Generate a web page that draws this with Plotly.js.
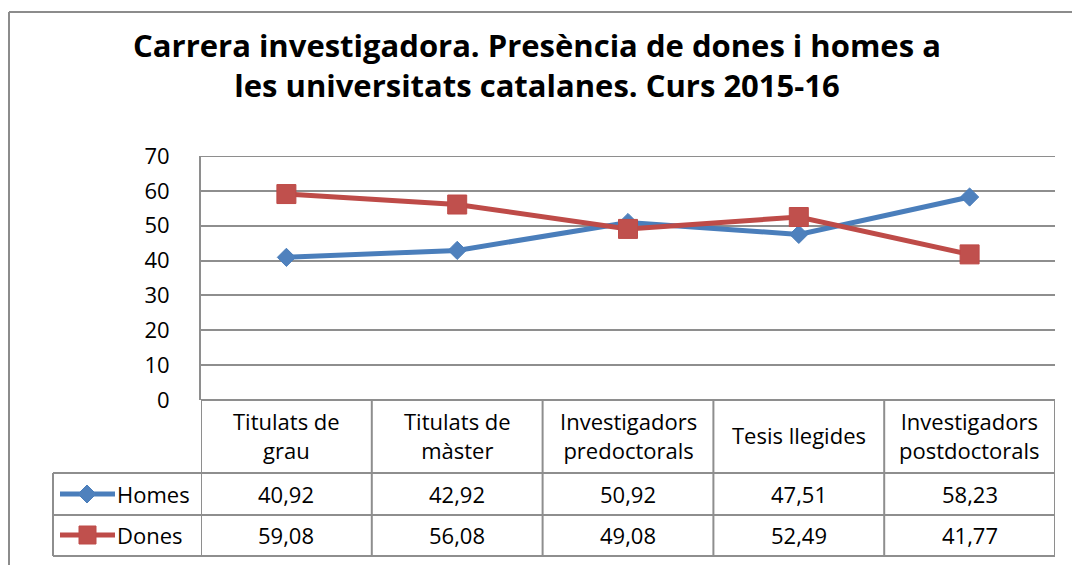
<!DOCTYPE html>
<html>
<head>
<meta charset="utf-8">
<script src="https://cdn.plot.ly/plotly-3.0.1.min.js"></script>
<style>html,body{margin:0;padding:0;background:#fff;}#chart{width:1072px;height:565px;}</style>
</head>
<body>
<div id="chart"></div>
<script>
const categories = ["Titulats de<br>grau", "Titulats de<br>màster", "Investigadors<br>predoctorals", "Tesis llegides", "Investigadors<br>postdoctorals"];
const homes = [40.92, 42.92, 50.92, 47.51, 58.23];
const dones = [59.08, 56.08, 49.08, 52.49, 41.77];
const seriesNames = ["Homes", "Dones"];
const yTicks = [0, 10, 20, 30, 40, 50, 60, 70];

const W = 1072, H = 565;
const px = x => x / W;
const py = y => 1 - y / H;
const FONT = "'Open Sans', sans-serif";
const GRID = "#8e8e8e";
const BLUE = "#4A7EBB", BLUE_M = "#4F81BD";
const RED = "#BE4B48", RED_M = "#C0504D";

const plotLeft = 201, plotRight = 1055, plotTop = 156, plotBottom = 400;
const tableLeft = 53, headerBottom = 473, row1Bottom = 515, row2Bottom = 556;
const TXT = 22;

const idx = categories.map((c, i) => i);
const fmt = v => v.toFixed(2).replace('.', ',');

const traces = [
  {x: idx, y: homes, name: seriesNames[0], type: 'scatter', mode: 'lines+markers',
   line: {color: BLUE, width: 5}, marker: {symbol: 'diamond', size: 14, color: BLUE_M, line: {color: BLUE, width: 1}}},
  {x: idx, y: dones, name: seriesNames[1], type: 'scatter', mode: 'lines+markers',
   line: {color: RED, width: 5}, marker: {symbol: 'square', size: 19, color: RED_M, line: {color: RED, width: 1}}}
];

const shapes = [];
const annotations = [];
const L = (x0, y0, x1, y1, color, width) => shapes.push({type: 'line', xref: 'paper', yref: 'paper',
  x0: px(x0), y0: py(y0), x1: px(x1), y1: py(y1), line: {color: color || GRID, width: width || 2}});

// outer chart frame
L(9, 12, 1072, 12, '#8c8c8c', 2);
L(9, 12, 9, 565, '#8c8c8c', 2);

// top gridline (70)
shapes.push({type: 'line', xref: 'paper', yref: 'y', x0: px(plotLeft), x1: px(plotRight), y0: 70, y1: 70,
  line: {color: GRID, width: 2}});

// data table: header row dividers at category boundaries
for (let i = 0; i <= categories.length; i++) {
  shapes.push({type: 'line', xref: 'x', yref: 'paper', x0: i - 0.5, x1: i - 0.5,
    y0: py(plotBottom), y1: py(row2Bottom), line: {color: GRID, width: 2}});
}
L(plotLeft, plotBottom, plotRight, plotBottom);
L(tableLeft, headerBottom, plotRight, headerBottom);
L(tableLeft, row1Bottom, plotRight, row1Bottom);
L(tableLeft, row2Bottom, plotRight, row2Bottom);
L(tableLeft, headerBottom, tableLeft, row2Bottom);

// header labels
categories.forEach((c, i) => annotations.push({xref: 'x', yref: 'paper', x: i, y: py(435), text: c,
  showarrow: false, xanchor: 'center', yanchor: 'middle', font: {family: FONT, size: TXT, color: '#000'}}));

// values rows
const rowsData = [homes, dones];
const rowCenters = [494, 535];
rowsData.forEach((arr, r) => arr.forEach((v, i) => annotations.push({xref: 'x', yref: 'paper', x: i, y: py(rowCenters[r]),
  text: fmt(v), showarrow: false, xanchor: 'center', yanchor: 'middle', font: {family: FONT, size: TXT, color: '#000'}})));

// legend keys
const keyColors = [[BLUE, BLUE_M], [RED, RED_M]];
seriesNames.forEach((n, r) => {
  const cy = rowCenters[r];
  L(60, cy, 115, cy, keyColors[r][0], 5);
  if (r === 0) {
    shapes.push({type: 'path', xref: 'paper', yref: 'paper',
      path: `M ${px(87)} ${py(cy - 9)} L ${px(96)} ${py(cy)} L ${px(87)} ${py(cy + 9)} L ${px(78)} ${py(cy)} Z`,
      fillcolor: keyColors[r][1], line: {color: keyColors[r][0], width: 1}});
  } else {
    shapes.push({type: 'rect', xref: 'paper', yref: 'paper', x0: px(79), x1: px(96), y0: py(cy - 9), y1: py(cy + 9),
      fillcolor: keyColors[r][1], line: {color: keyColors[r][0], width: 1}});
  }
  annotations.push({xref: 'paper', yref: 'paper', x: px(115), y: py(cy), text: n, showarrow: false,
    xanchor: 'left', yanchor: 'middle', font: {family: FONT, size: TXT, color: '#000'}});
});

const layout = {
  width: W, height: H,
  margin: {l: 0, r: 0, t: 0, b: 0},
  paper_bgcolor: '#fff', plot_bgcolor: '#fff',
  showlegend: false,
  title: {text: 'Carrera investigadora. Presència de dones i homes a<br>les universitats catalanes. Curs 2015-16',
    x: px(537), xanchor: 'center', y: py(57), yanchor: 'middle', font: {family: FONT, size: 31, color: '#000', weight: 'bold'}},
  xaxis: {domain: [px(plotLeft), px(plotRight)], range: [-0.5, categories.length - 0.5], showticklabels: false,
    showgrid: false, zeroline: false, showline: false, fixedrange: true},
  yaxis: {domain: [py(plotBottom), py(plotTop)], range: [0, 70], tickvals: yTicks, ticktext: yTicks.map(String),
    showgrid: true, gridcolor: GRID, gridwidth: 2, zeroline: false, showline: true, linecolor: GRID, linewidth: 2,
    ticks: 'outside', ticklen: 25, tickcolor: 'rgba(0,0,0,0)', tickfont: {family: FONT, size: TXT, color: '#000'}},
  shapes: shapes,
  annotations: annotations
};

Plotly.newPlot('chart', traces, layout, {displayModeBar: false, staticPlot: true});
</script>
</body>
</html>
